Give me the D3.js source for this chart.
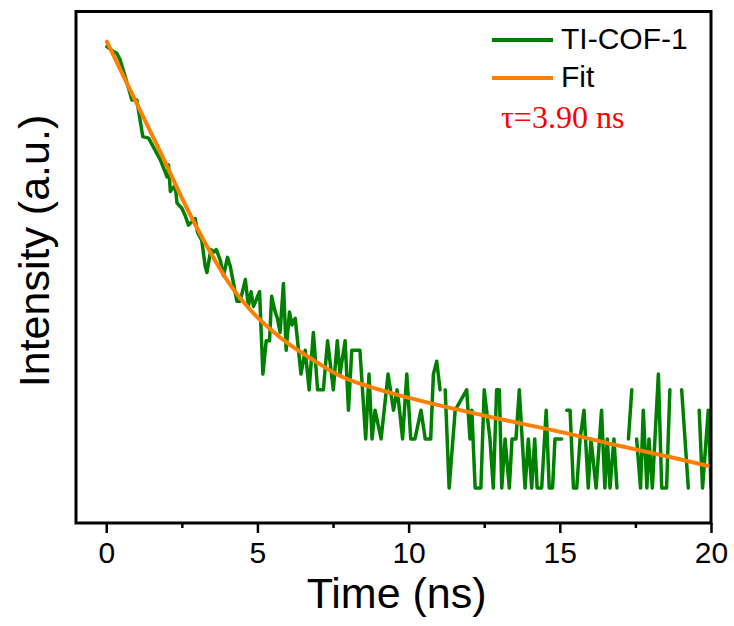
<!DOCTYPE html>
<html>
<head>
<meta charset="utf-8">
<script src="https://cdn.jsdelivr.net/npm/d3@7"></script>
<style>
  html, body { margin: 0; padding: 0; background: #ffffff; }
  svg { display: block; }
</style>
</head>
<body>
<svg id="chart" width="734" height="626"></svg>
<script>
// ---- data ----
const seriesNames = ["TI-COF-1", "Fit"];
const xTicks = [0, 5, 10, 15, 20];
const xMinorTicks = [2.5, 7.5, 12.5, 17.5];
const xDomain = [-1, 20];
const yDomain = [0.61, 838];   // log-scale intensity (counts), no tick labels shown
const tauLabel = "τ=3.90 ns";

// measured decay (time in ns, counts); null = zero count (gap on log axis)
const dataTime = [0.02,0.24,0.35,0.46,0.66,0.85,1.01,1.21,1.40,1.79,2.01,2.06,2.12,2.28,2.34,2.50,2.61,2.72,2.94,3.02,
  3.16,3.27,3.33,3.46,3.55,3.64,3.77,3.88,4.01,4.10,4.32,4.43,4.60,4.70,4.79,4.87,5.07,5.18,5.29,5.40,
  5.47,5.59,5.66,5.75,5.86,5.95,6.06,6.14,6.25,6.44,6.58,6.71,6.85,6.99,7.18,7.32,7.51,7.64,7.73,7.90,
  8.01,8.12,8.39,8.58,8.69,8.79,8.89,9.09,9.32,9.50,9.62,9.70,9.80,9.94,10.07,10.21,10.41,10.55,10.73,10.82,
  10.93,11.04,11.13,11.21,11.34,11.54,11.92,12.03,12.09,12.20,12.39,12.50,12.69,12.80,12.91,13.00,13.08,13.19,13.33,13.42,
  13.55,13.66,13.85,13.96,14.07,14.17,14.25,14.40,14.55,14.65,14.76,14.84,15.06,15.15,15.23,15.34,15.45,15.56,15.67,15.80,
  15.94,16.03,16.20,16.38,16.49,16.57,16.66,16.79,16.89,17.10,17.27,17.38,17.46,17.54,17.67,17.76,17.88,17.95,18.06,18.26,
  18.37,18.53,18.64,18.80,19.03,19.25,19.45,19.61,19.72,19.91,20.0];
const dataCounts = [510,475,464,422,318,240,240,143,140,103,81,96,66,72,56,52,47,41,45,37,
  33,23,21,29,28,29,25,20,26,23,14,14,19,13,16,13,16,5,8,8,
  15,12,11,9,18,7,12,10,11,5,7,4,9,4,4,8,4,8,5,8,
  3,7,7,2,5,2,3,2,5,3,4,3,2,5,2,2,3,2,2,5,
  6,4,null,4,1,3,4,2,3,1,1,4,2,1,4,4,1,2,1,2,
  2,4,1,2,1,2,1,1,3,1,1,2,2,null,3,3,1,1,2,3,
  1,2,1,3,1,2,1,2,1,null,2,4,null,2,1,3,1,2,1,5,
  1,1,4,null,4,1,null,3,1,3,1];

// fitted curve (time in ns, counts)
const fitTime = [0.02,0.79,1.79,2.78,3.44,4.10,4.76,5.42,6.08,6.74,7.74,8.73,10.02,11.37,13.02,15.01,17.0,18.64,20.0];
const fitCounts = [547,277,115,47.3,28.0,17.6,12.4,9.45,7.54,6.28,4.87,4.17,3.57,3.10,2.65,2.21,1.81,1.55,1.355];

// ---- layout ----
const svg = d3.select("#chart");
const plot = { left: 76, right: 711, top: 11.5, bottom: 523 };
const colors = { data: "#008000", fit: "#FF8000", tau: "#FF0000" };
const sansFont = "'Liberation Sans', Arial, Helvetica, sans-serif";
const serifFont = "'Liberation Serif', 'Times New Roman', serif";

const x = d3.scaleLinear().domain(xDomain).range([plot.left, plot.right]);
const y = d3.scaleLog().domain(yDomain).range([plot.bottom, plot.top]);

svg.append("defs").append("clipPath").attr("id", "clip")
  .append("rect")
  .attr("x", plot.left).attr("y", plot.top)
  .attr("width", plot.right - plot.left).attr("height", plot.bottom - plot.top);

const dataPts = dataTime.map((t, i) => ({ t, v: dataCounts[i] }));
const fitPts = fitTime.map((t, i) => ({ t, v: fitCounts[i] }));

const lineData = d3.line()
  .defined(d => d.v !== null && d.v > 0)
  .x(d => x(d.t)).y(d => y(d.v));
const lineFit = d3.line()
  .curve(d3.curveMonotoneX)
  .x(d => x(d.t)).y(d => y(d.v));

const g = svg.append("g").attr("clip-path", "url(#clip)");
g.append("path").datum(dataPts)
  .attr("d", lineData)
  .attr("fill", "none").attr("stroke", colors.data)
  .attr("stroke-width", 3.5).attr("stroke-linejoin", "round").attr("stroke-linecap", "round");
g.append("path").datum(fitPts)
  .attr("d", lineFit)
  .attr("fill", "none").attr("stroke", colors.fit)
  .attr("stroke-width", 4).attr("stroke-linecap", "round");

// ---- axes ----
const xAxis = d3.axisBottom(x).tickValues(xTicks).tickSize(10).tickSizeOuter(0).tickPadding(9)
  .tickFormat(d3.format("d"));
const ax = svg.append("g").attr("transform", `translate(0,${plot.bottom})`).call(xAxis);
ax.select(".domain").remove();
ax.selectAll(".tick line").attr("stroke", "#000").attr("stroke-width", 2.5);
ax.selectAll(".tick text").attr("fill", "#000")
  .style("font-family", sansFont).style("font-size", "30px");

const xMinor = d3.axisBottom(x).tickValues(xMinorTicks).tickSize(5).tickSizeOuter(0).tickFormat("");
const axm = svg.append("g").attr("transform", `translate(0,${plot.bottom})`).call(xMinor);
axm.select(".domain").remove();
axm.selectAll(".tick line").attr("stroke", "#000").attr("stroke-width", 2.5);

// frame
svg.append("rect")
  .attr("x", plot.left).attr("y", plot.top)
  .attr("width", plot.right - plot.left).attr("height", plot.bottom - plot.top)
  .attr("fill", "none").attr("stroke", "#000").attr("stroke-width", 3);

// axis titles
svg.append("text")
  .attr("x", (x(0) + x(20)) / 2 - 12).attr("y", 608)
  .attr("text-anchor", "middle")
  .style("font-family", sansFont).style("font-size", "43px")
  .text("Time (ns)");
svg.append("text")
  .attr("transform", `translate(49,251) rotate(-90)`)
  .attr("text-anchor", "middle")
  .style("font-family", sansFont).style("font-size", "43px")
  .text("Intensity (a.u.)");

// legend
const legend = svg.append("g");
const legendRows = [
  { name: seriesNames[0], color: colors.data, y: 40, w: 4 },
  { name: seriesNames[1], color: colors.fit, y: 78, w: 4 }
];
legendRows.forEach(r => {
  legend.append("line")
    .attr("x1", 492).attr("x2", 553).attr("y1", r.y).attr("y2", r.y)
    .attr("stroke", r.color).attr("stroke-width", r.w);
  legend.append("text")
    .attr("x", 561).attr("y", r.y + 8.5)
    .style("font-family", sansFont).style("font-size", "30px")
    .attr("fill", "#000")
    .text(r.name);
});
legend.append("text")
  .attr("x", 501).attr("y", 128)
  .style("font-family", serifFont).style("font-size", "32px")
  .attr("fill", colors.tau)
  .text(tauLabel);
</script>
</body>
</html>
